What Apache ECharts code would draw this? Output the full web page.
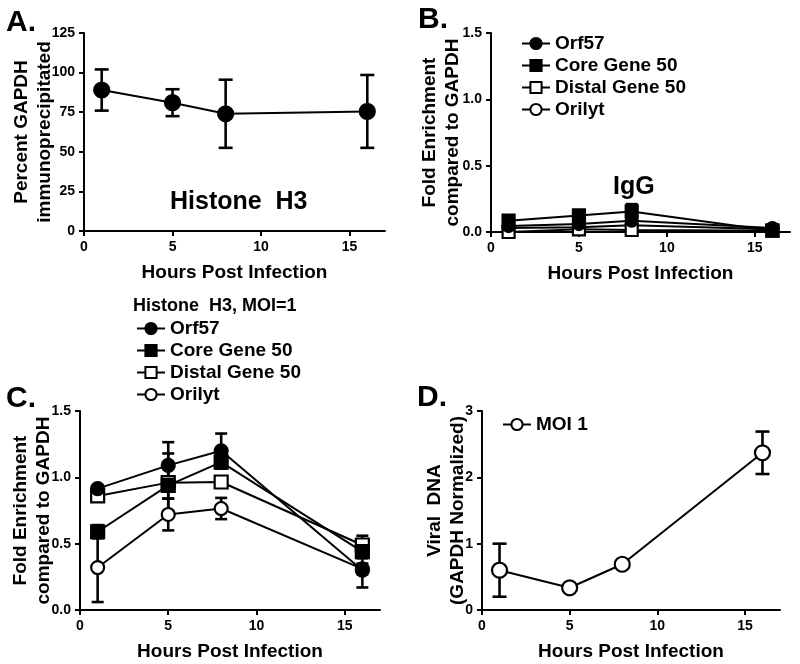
<!DOCTYPE html>
<html>
<head>
<meta charset="utf-8">
<script src="https://cdn.jsdelivr.net/npm/echarts@6/dist/echarts.min.js"></script>
<style>
html,body{margin:0;padding:0;background:#fff;}
#chart{width:800px;height:664px;}
</style>
</head>
<body>
<div id="chart"></div>
<script>
// ---------- DATA ----------
const hours = [1, 5, 8, 16];
const xTicks = [0, 5, 10, 15];

// Panel A: Histone H3, percent GAPDH immunoprecipitated
const h3Percent = [89, 81, 74, 75.5];
const h3PercentErr = [13, 8.5, 21.5, 23];

// Panel B: IgG fold enrichment
const seriesNames = ['Orf57', 'Core Gene 50', 'Distal Gene 50', 'Orilyt'];
const iggOrf57 = [0.045, 0.06, 0.085, 0.03];
const iggOrf57Err = [0.02, 0.02, 0.03, 0.01];
const iggCore = [0.085, 0.125, 0.155, 0.01];
const iggCoreErr = [0.02, 0.02, 0.055, 0.01];
const iggDistal = [0.0, 0.02, 0.015, 0.01];
const iggDistalErr = [0.01, 0.02, 0.02, 0.01];
const iggOrilyt = [0.03, 0.035, 0.05, 0.02];
const iggOrilytErr = [0.01, 0.02, 0.02, 0.01];

// Panel C: Histone H3, MOI=1 fold enrichment
const h3Orf57 = [0.915, 1.09, 1.2, 0.30];
const h3Orf57Err = [0.02, 0.175, 0.13, 0.13];
const h3Core = [0.59, 0.94, 1.115, 0.44];
const h3CoreErr = [0.05, 0.24, 0.05, 0.05];
const h3Distal = [0.86, 0.96, 0.965, 0.49];
const h3DistalErr = [0.03, 0.12, 0.04, 0.07];
const h3Orilyt = [0.32, 0.72, 0.765, 0.31];
const h3OrilytErr = [0.26, 0.12, 0.08, 0.04];

// Panel D: Viral DNA (GAPDH normalized)
const viralDNA = [0.6, 0.335, 0.69, 2.37];
const viralDNAErr = [0.4, 0.03, 0.05, 0.32];

// ---------- STYLE HELPERS ----------
const FONT = '"Liberation Sans", Arial, Helvetica, sans-serif';
const BLACK = '#000';

function xAxisFor(gridIndex) {
  return {
    type: 'value', gridIndex, min: 0, max: 17,
    name: 'Hours Post Infection', nameLocation: 'middle', nameGap: 32,
    nameTextStyle: {fontFamily: FONT, fontWeight: 'bold', fontSize: 19, color: BLACK},
    axisLine: {show: true, onZero: false, lineStyle: {color: BLACK, width: 2}},
    axisTick: {show: true, length: 5, lineStyle: {color: BLACK, width: 2}, customValues: xTicks},
    axisLabel: {fontFamily: FONT, fontWeight: 'bold', fontSize: 14, color: BLACK, margin: 9, customValues: xTicks},
    splitLine: {show: false}
  };
}
function yAxisFor(gridIndex, max, interval, name, decimals, nameGap) {
  return {
    type: 'value', gridIndex, min: 0, max, interval,
    name, nameLocation: 'middle', nameGap: nameGap, nameRotate: 90, nameMoveOverlap: false,
    nameTextStyle: {fontFamily: FONT, fontWeight: 'bold', fontSize: 19, color: BLACK, lineHeight: 23},
    axisLine: {show: true, onZero: false, lineStyle: {color: BLACK, width: 2}},
    axisTick: {show: true, length: 5, lineStyle: {color: BLACK, width: 2}},
    axisLabel: {fontFamily: FONT, fontWeight: 'bold', fontSize: 14, color: BLACK, margin: 9,
      formatter: v => v.toFixed(decimals)},
    splitLine: {show: false}
  };
}

const markerDefs = {
  'Orf57': {symbol: 'circle', fill: BLACK},
  'Core Gene 50': {symbol: 'rect', fill: BLACK},
  'Distal Gene 50': {symbol: 'rect', fill: '#fff'},
  'Orilyt': {symbol: 'circle', fill: '#fff'},
  'MOI 1': {symbol: 'circle', fill: '#fff'},
  'H3': {symbol: 'circle', fill: BLACK}
};

function lineSeries(name, values, idx, size, z) {
  const m = markerDefs[name];
  return {
    type: 'line', name, xAxisIndex: idx, yAxisIndex: idx,
    data: hours.map((h, i) => [h, values[i]]),
    symbol: m.symbol, symbolSize: size, showSymbol: true,
    lineStyle: {color: BLACK, width: 2},
    itemStyle: {color: m.fill, borderColor: BLACK, borderWidth: 2.2},
    emphasis: {disabled: true}, animation: false, z: z || 3
  };
}
function errSeries(values, errs, idx, cap, z) {
  return {
    type: 'custom', xAxisIndex: idx, yAxisIndex: idx, silent: true, animation: false, z: z || 2,
    data: hours.map((h, i) => [h, values[i], errs[i]]),
    encode: {x: 0, y: 1},
    renderItem: function (params, api) {
      const x = api.value(0), y = api.value(1), e = api.value(2);
      const hi = api.coord([x, y + e]);
      const lo = api.coord([x, y - e]);
      const st = {stroke: BLACK, lineWidth: 2.6};
      return {type: 'group', children: [
        {type: 'line', shape: {x1: hi[0], y1: hi[1], x2: lo[0], y2: lo[1]}, style: st},
        {type: 'line', shape: {x1: hi[0] - cap, y1: hi[1], x2: hi[0] + cap, y2: hi[1]}, style: st},
        {type: 'line', shape: {x1: lo[0] - cap, y1: lo[1], x2: lo[0] + cap, y2: lo[1]}, style: st}
      ]};
    }
  };
}

const legendText = {fontFamily: FONT, fontWeight: 'bold', fontSize: 19, color: BLACK};

const option = {
  backgroundColor: '#fff',
  animation: false,
  grid: [
    {left: 84, top: 33, width: 301, height: 198},
    {left: 491, top: 33, width: 299, height: 199},
    {left: 80, top: 411, width: 300, height: 199},
    {left: 482, top: 411, width: 298, height: 199}
  ],
  xAxis: [xAxisFor(0), xAxisFor(1), xAxisFor(2), xAxisFor(3)],
  yAxis: [
    yAxisFor(0, 125, 25, 'Percent GAPDH\nimmunoprecipitated', 0, 28),
    yAxisFor(1, 1.5, 0.5, 'Fold Enrichment\ncompared to GAPDH', 1, 27),
    yAxisFor(2, 1.5, 0.5, 'Fold Enrichment\ncompared to GAPDH', 1, 25),
    yAxisFor(3, 3, 1, 'Viral  DNA\n(GAPDH Normalized)', 0, 13)
  ],
  legend: [
    {data: seriesNames, orient: 'vertical', left: 516, top: 29, itemGap: 3,
     itemWidth: 28, itemHeight: 14, textStyle: legendText, selectedMode: false},
    {data: seriesNames, orient: 'vertical', left: 131, top: 314, itemGap: 3,
     itemWidth: 28, itemHeight: 14, textStyle: legendText, selectedMode: false},
    {data: ['MOI 1'], orient: 'vertical', left: 497, top: 410,
     itemWidth: 28, itemHeight: 14, textStyle: legendText, selectedMode: false}
  ],
  graphic: [
    {type: 'text', left: 6, top: 8, style: {text: 'A.', font: 'bold 30px ' + FONT, fill: BLACK}},
    {type: 'text', left: 418, top: 5, style: {text: 'B.', font: 'bold 30px ' + FONT, fill: BLACK}},
    {type: 'text', left: 6, top: 384, style: {text: 'C.', font: 'bold 30px ' + FONT, fill: BLACK}},
    {type: 'text', left: 417, top: 383, style: {text: 'D.', font: 'bold 30px ' + FONT, fill: BLACK}},
    {type: 'text', left: 170, top: 190, style: {text: 'Histone  H3', font: 'bold 25px ' + FONT, fill: BLACK}},
    {type: 'text', left: 613, top: 175, style: {text: 'IgG', font: 'bold 25px ' + FONT, fill: BLACK}},
    {type: 'text', left: 133, top: 297, style: {text: 'Histone  H3, MOI=1', font: 'bold 18px ' + FONT, fill: BLACK}}
  ],
  series: [
    // A
    errSeries(h3Percent, h3PercentErr, 0, 7),
    lineSeries('H3', h3Percent, 0, 15),
    // B (open markers drawn first, filled on top)
    errSeries(iggOrf57, iggOrf57Err, 1, 6),
    errSeries(iggCore, iggCoreErr, 1, 6),
    errSeries(iggDistal, iggDistalErr, 1, 6),
    errSeries(iggOrilyt, iggOrilytErr, 1, 6),
    lineSeries('Orilyt', iggOrilyt, 1, 12, 3),
    lineSeries('Distal Gene 50', iggDistal, 1, 12, 3),
    lineSeries('Core Gene 50', iggCore, 1, 12, 4),
    lineSeries('Orf57', iggOrf57, 1, 12, 5),
    // C
    errSeries(h3Orf57, h3Orf57Err, 2, 6),
    errSeries(h3Core, h3CoreErr, 2, 6),
    errSeries(h3Distal, h3DistalErr, 2, 6),
    errSeries(h3Orilyt, h3OrilytErr, 2, 6),
    lineSeries('Orilyt', h3Orilyt, 2, 13, 3),
    lineSeries('Distal Gene 50', h3Distal, 2, 13, 3),
    lineSeries('Core Gene 50', h3Core, 2, 13, 4),
    lineSeries('Orf57', h3Orf57, 2, 13, 5),
    // D
    errSeries(viralDNA, viralDNAErr, 3, 7),
    lineSeries('MOI 1', viralDNA, 3, 15)
  ]
};

const chart = echarts.init(document.getElementById('chart'), null, {renderer: 'canvas'});
chart.setOption(option);
</script>
</body>
</html>
